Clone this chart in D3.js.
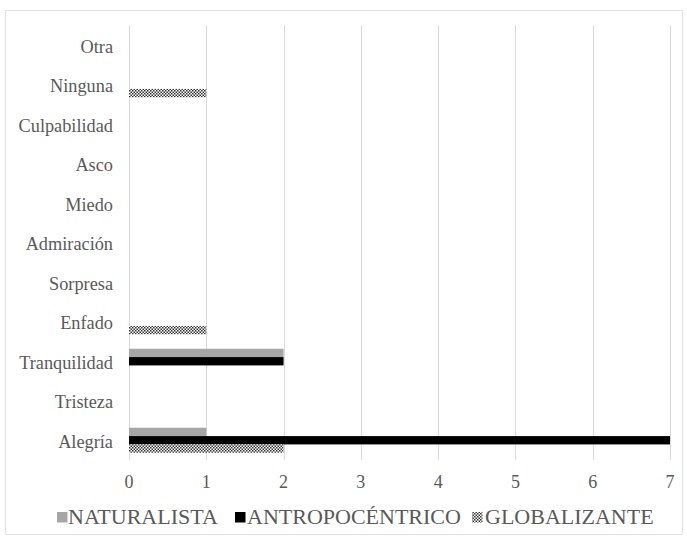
<!DOCTYPE html>
<html>
<head>
<meta charset="utf-8">
<script src="https://cdn.jsdelivr.net/npm/d3@7"></script>
<style>
  html, body { margin: 0; padding: 0; background: #fff; }
  svg { display: block; }
</style>
</head>
<body>
<script>
// Categories, top to bottom as displayed
const categories = ["Otra", "Ninguna", "Culpabilidad", "Asco", "Miedo", "Admiración", "Sorpresa", "Enfado", "Tranquilidad", "Tristeza", "Alegría"];
const seriesNames = ["NATURALISTA", "ANTROPOCÉNTRICO", "GLOBALIZANTE"];
const naturalista     = [0, 0, 0, 0, 0, 0, 0, 0, 2, 0, 1];
const antropocentrico = [0, 0, 0, 0, 0, 0, 0, 0, 2, 0, 7];
const globalizante    = [0, 1, 0, 0, 0, 0, 0, 1, 0, 0, 2];
const xTicks = [0, 1, 2, 3, 4, 5, 6, 7];

const FONT = "Liberation Serif";
const TXT = "#595959";
const W = 687, H = 538;
const svg = d3.select("body").append("svg").attr("width", W).attr("height", H);

const defs = svg.append("defs");
const pat = defs.append("pattern").attr("id", "checker")
  .attr("patternUnits", "userSpaceOnUse").attr("width", 3).attr("height", 3);
pat.append("rect").attr("width", 3).attr("height", 3).attr("fill", "#ffffff");
pat.append("rect").attr("width", 1.5).attr("height", 1.5).attr("fill", "#333");
pat.append("rect").attr("x", 1.5).attr("y", 1.5).attr("width", 1.5).attr("height", 1.5).attr("fill", "#333");

// outer chart border
svg.append("rect").attr("x", 5.5).attr("y", 10.5).attr("width", 677).attr("height", 524)
  .attr("fill", "#fff").attr("stroke", "#e3e3e3").attr("stroke-width", 1);

const x = d3.scaleLinear().domain([0, 7]).range([129, 670]);
const y = d3.scaleBand().domain(categories).range([25.5, 460]);
const groupH = 25;
const ySub = d3.scaleBand().domain(seriesNames).range([0, groupH]);

// gridlines
svg.append("g").selectAll("line").data(xTicks).join("line")
  .attr("x1", d => Math.round(x(d)) + 0.5).attr("x2", d => Math.round(x(d)) + 0.5)
  .attr("y1", 25).attr("y2", 460)
  .attr("stroke", "#d9d9d9").attr("stroke-width", 1);

// x tick labels
svg.append("g").selectAll("text").data(xTicks).join("text")
  .attr("x", d => x(d)).attr("y", 488)
  .attr("text-anchor", "middle").attr("font-size", 18)
  .attr("font-family", FONT).attr("fill", TXT)
  .text(d => d);

// category labels
svg.append("g").selectAll("text").data(categories).join("text")
  .attr("x", 113).attr("y", d => y(d) + y.bandwidth() / 2 + 1)
  .attr("dy", "0.35em").attr("text-anchor", "end").attr("font-size", 18.3)
  .attr("font-family", FONT).attr("fill", TXT)
  .text(d => d);

const series = [
  { name: seriesNames[0], values: naturalista, fill: "#a6a6a6" },
  { name: seriesNames[1], values: antropocentrico, fill: "#000000" },
  { name: seriesNames[2], values: globalizante, fill: "url(#checker)" }
];

series.forEach(s => {
  svg.append("g").selectAll("rect")
    .data(categories.map((c, i) => ({ c, v: s.values[i] })).filter(d => d.v > 0))
    .join("rect")
    .attr("x", x(0))
    .attr("y", d => y(d.c) + y.bandwidth() / 2 - groupH / 2 + ySub(s.name))
    .attr("width", d => x(d.v) - x(0))
    .attr("height", ySub.bandwidth())
    .attr("fill", s.fill);
});

// legend
const legendItems = [
  { name: seriesNames[0], fill: "#a6a6a6", sx: 57, tx: 68 },
  { name: seriesNames[1], fill: "#000000", sx: 235, tx: 247 },
  { name: seriesNames[2], fill: "url(#checker)", sx: 472, tx: 485 }
];
const lg = svg.append("g");
legendItems.forEach(it => {
  lg.append("rect").attr("x", it.sx).attr("y", 512).attr("width", 10.5).attr("height", 10.5).attr("fill", it.fill);
  lg.append("text").attr("x", it.tx).attr("y", 524).attr("font-size", 22)
    .attr("font-family", FONT).attr("fill", TXT).text(it.name);
});
</script>
</body>
</html>
